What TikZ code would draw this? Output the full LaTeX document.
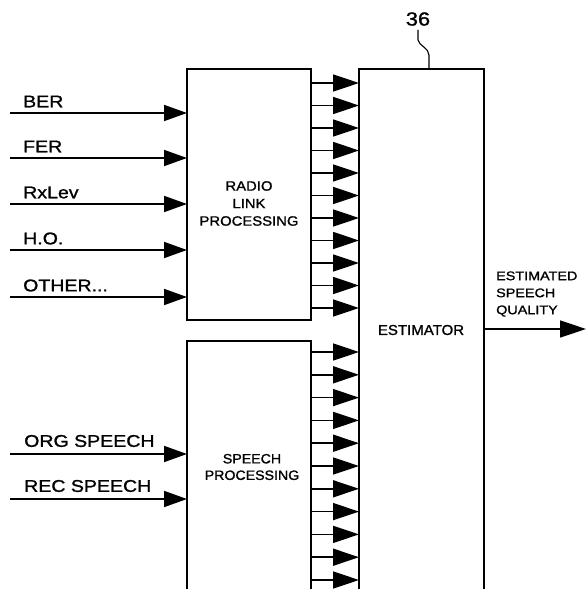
\documentclass[tikz,border=0pt]{standalone}
\usepackage{fontspec}
\setmainfont{Liberation Sans}[FakeStretch=1.15, FakeBold=1.2]
\newfontfamily\boxfontA{Liberation Sans}[FakeStretch=1.1, FakeBold=1.2]
\newfontfamily\boxfontB{Liberation Sans}[FakeStretch=1.05, FakeBold=1.2]
\usetikzlibrary{arrows.meta}
\begin{document}
\begin{tikzpicture}[x=1pt,y=-1pt,
  box/.style={draw=none, inner sep=0pt, outer sep=0pt},
  edge/.style={line width=1.8pt},
  conn/.style={line width=1.7pt, -{Triangle[length=26pt,width=17pt]}},
  inconn/.style={line width=1.7pt, -{Triangle[length=23pt,width=16pt]}},
  lbl/.style={anchor=west, inner sep=0pt, font=\fontsize{17}{20}\selectfont},
  boxtxt/.style={align=center, inner sep=0pt},
]
\useasboundingbox (0,0) rectangle (587,589);
% blocks
\node[box, draw, line width=1.8pt, minimum width=124pt, minimum height=251pt] (radio) at (249,194.5) {};
\node[box, minimum width=124pt, minimum height=248pt] (speech) at (249,465) {};
\node[box, minimum width=125pt, minimum height=520pt] (est) at (421.5,329) {};
\draw[edge] (speech.south west) -- (speech.north west) -- (speech.north east) -- (speech.south east);
\draw[edge] (est.south west) -- (est.north west) -- (est.north east) -- (est.south east);
% block texts
\node[boxtxt, font=\boxfontA\fontsize{13.5}{17.5}\selectfont] (radiotxt) at (249,203.5) {RADIO\\LINK\\PROCESSING};
\node[boxtxt, font=\boxfontB\fontsize{13.5}{16.5}\selectfont] (speechtxt) at (252,467) {SPEECH\\PROCESSING};
\node[boxtxt, font=\boxfontB\fontsize{14.3}{17}\selectfont] (esttxt) at (421,330) {ESTIMATOR};
% reference numeral
\node[inner sep=0pt, font=\fontsize{19}{22}\selectfont] (lbl36) at (418,19) {36};
\coordinate (leadend) at (429,69);
\draw[line width=1.1pt] ([yshift=-4pt]lbl36.south) -- ++(0,10) .. controls +(1,6) and +(0,-7) .. (429,55) -- (leadend);
% inputs to radio link processing
\foreach \name/\y/\txt in {ber/113/BER, fer/158/FER, rxl/204/RxLev, ho/250/H.O.} {
  \coordinate (in-\name) at (10,\y);
  \node[lbl] (l-\name) at (23,\y-11.5) {\txt};
  \draw[inconn] (in-\name) -- (radio.west |- in-\name);
}
\coordinate (in-oth) at (10,297);
\node[lbl] (l-oth) at (23,285.5) {OTHER...};
\draw[inconn] (in-oth) -- (radio.west |- in-oth);
% inputs to speech processing
\foreach \name/\y/\txt in {org/454/ORG SPEECH, rec/499/REC SPEECH} {
  \coordinate (in-\name) at (10,\y);
  \node[lbl] (l-\name) at (24,\y-13) {\txt};
  \draw[inconn] (in-\name) -- (speech.west |- in-\name);
}
% radio -> estimator
\foreach \i in {0,...,10} {
  \pgfmathsetmacro\yy{83+22.5*\i}
  \coordinate (r\i) at (0,\yy);
  \draw[conn] (radio.east |- r\i) -- (est.west |- r\i);
}
% speech -> estimator
\foreach \i in {0,...,10} {
  \pgfmathsetmacro\yy{352+22.8*\i}
  \coordinate (s\i) at (0,\yy);
  \draw[conn] (speech.east |- s\i) -- (est.west |- s\i);
}
% output
\coordinate (qout) at (586,329);
\draw[conn] (est.east) -- (qout);
\node[anchor=west, align=left, inner sep=0pt, font=\fontsize{12.5}{17}\selectfont] (qtxt) at (496,294) {ESTIMATED\\SPEECH\\QUALITY};
\end{tikzpicture}
\end{document}
